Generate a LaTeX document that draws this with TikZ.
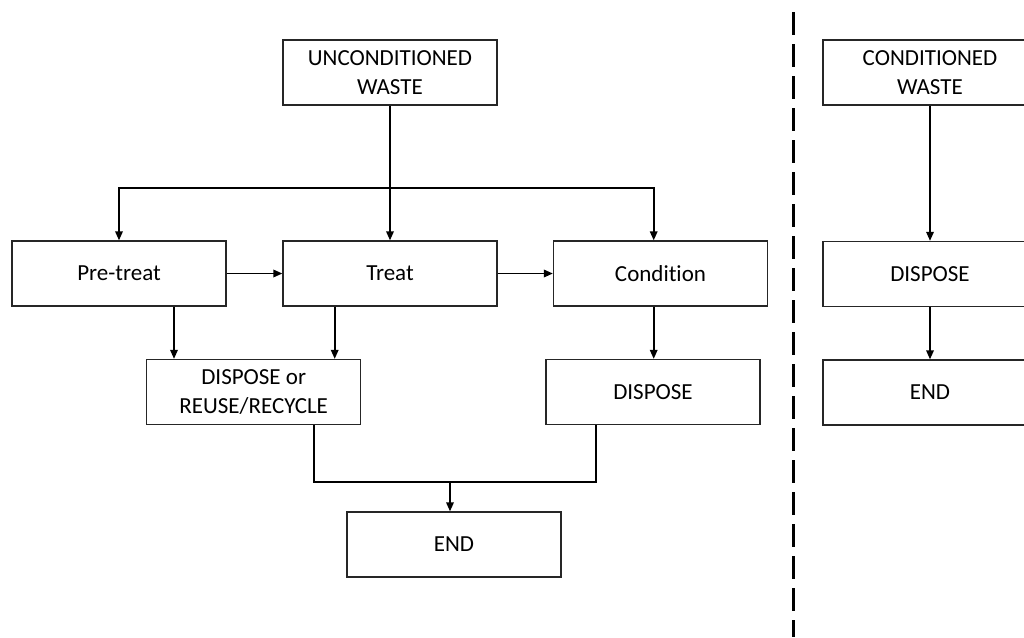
\documentclass[tikz,border=0pt]{standalone}
\usepackage{fontspec}
\setmainfont{Carlito}[Ligatures=NoCommon]
\usetikzlibrary{arrows.meta}
\begin{document}
\begin{tikzpicture}[x=1pt,y=-1pt,
  box/.style={draw=black!85, line width=1.3pt, minimum width=214pt, minimum height=65pt,
    inner sep=0pt, align=center, font=\fontsize{23}{28.4}\selectfont},
  conn/.style={draw=black, line width=1.7pt},
  arr/.style={conn, -{Triangle[length=9pt,width=7.5pt]}},
  divider/.style={draw=black, line width=3pt, dash pattern=on 23pt off 9pt}]
\useasboundingbox (0,0) rectangle (1024,637);
\clip (0,0) rectangle (1024,637);
% nodes
\node[box] (unc)   at (390,72.5)   {UNCONDITIONED\\WASTE};
\node[box] (pre)   at (119,273.5)  {Pre-treat};
\node[box] (treat) at (390,273.5)  {Treat};
\node[box] (cond)  at (660.5,273.5){Condition};
\node[box] (dor)   at (253.7,392)  {DISPOSE or\\REUSE/RECYCLE};
\node[box] (disp)  at (653,392)    {DISPOSE};
\node[box] (fin)   at (454,544.5)  {END};
\node[box] (cw)    at (930,72.5)   {CONDITIONED\\WASTE};
\node[box] (rdisp) at (930,274)    {DISPOSE};
\node[box] (rend)  at (930,392.5)  {END};
% helper coordinates
\coordinate (j) at (390,187.7);
\coordinate (xa) at (174,0);
\coordinate (xb) at (334.7,0);
\coordinate (xc) at (653.7,0);
\coordinate (xd) at (314,0);
\coordinate (xe) at (595.7,0);
\coordinate (k) at (450,482);
\coordinate (dtop) at (793.3,12);
\coordinate (dbot) at (793.3,637);
% connectors
\draw[conn] (unc.south) -- (j);
\draw[arr] (j) -| (pre.north);
\draw[arr] (j) -- (treat.north);
\draw[arr] (j) -| (cond.north -| xc);
\draw[arr] (pre.east) -- (treat.west);
\draw[arr] (treat.east) -- (cond.west);
\draw[arr] (pre.south -| xa) -- (dor.north -| xa);
\draw[arr] (treat.south -| xb) -- (dor.north -| xb);
\draw[arr] (cond.south -| xc) -- (disp.north -| xc);
\draw[conn] (dor.south -| xd) |- (k) -| (disp.south -| xe);
\draw[arr] (k) -- (fin.north -| k);
\draw[arr] (cw.south) -- (rdisp.north);
\draw[arr] (rdisp.south) -- (rend.north);
\draw[divider] (dtop) -- (dbot);
\end{tikzpicture}
\end{document}
